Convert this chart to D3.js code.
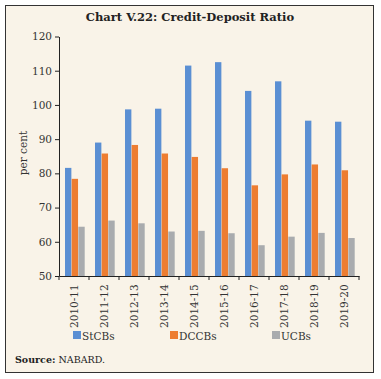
<!DOCTYPE html>
<html><head><meta charset="utf-8">
<script src="https://cdn.jsdelivr.net/npm/d3@7"></script>
<style>body{margin:0;background:#fff}svg{display:block}</style>
</head><body>
<script>
const categories = ["2010-11","2011-12","2012-13","2013-14","2014-15","2015-16","2016-17","2017-18","2018-19","2019-20"];
const stcbs = [81.6,89.0,98.7,98.9,111.5,112.5,104.1,106.9,95.4,95.1];
const dccbs = [78.4,85.8,88.3,85.8,84.8,81.5,76.5,79.7,82.6,80.9];
const ucbs  = [64.4,66.2,65.4,63.0,63.2,62.5,59.0,61.5,62.6,61.1];
const seriesNames = ["StCBs","DCCBs","UCBs"];
const yTicks = [50,60,70,80,90,100,110,120];
const colors = ["#5b8fd3","#ed7d31","#a9abae"];
const W=381,H=379;
const font="'DejaVu Serif', 'Liberation Serif', serif";
const svg=d3.select("body").append("svg").attr("width",W).attr("height",H);
svg.append("rect").attr("x",5.5).attr("y",5.5).attr("width",368).attr("height",367)
  .attr("fill","#f9f3e8").attr("stroke","#333").attr("stroke-width",1);
svg.append("text").attr("x",190).attr("y",21).attr("text-anchor","middle")
  .attr("font-family",font).attr("font-weight","bold").attr("font-size",11.5).attr("fill","#222")
  .text("Chart V.22: Credit-Deposit Ratio");
const x0=d3.scaleBand().domain(categories).range([59,359]);
const y=d3.scaleLinear().domain([50,120]).range([276,36.5]);
const x1=d3.scaleBand().domain(seriesNames).range([6,26]).padding(0);
const data=[stcbs,dccbs,ucbs];
const g=svg.append("g");
seriesNames.forEach((s,si)=>{
  g.selectAll(".b"+si).data(categories).enter().append("rect")
   .attr("x",c=>x0(c)+x1(s)).attr("width",x1.bandwidth()-0.3)
   .attr("y",(c,i)=>y(data[si][i])).attr("height",(c,i)=>y(50)-y(data[si][i]))
   .attr("fill",colors[si]);
});
const ya=svg.append("g").attr("transform","translate(59,0)")
  .call(d3.axisLeft(y).tickValues(yTicks).tickSize(4).tickSizeOuter(0));
ya.select(".domain").attr("stroke","#222");
ya.selectAll("line").attr("stroke","#222");
ya.selectAll("text").attr("font-family",font).attr("font-size",10.5).attr("fill","#333");
const xa=svg.append("g").attr("transform","translate(0,276)")
  .call(d3.axisBottom(x0).tickSize(0).tickFormat(d=>d));
xa.select(".domain").attr("stroke","#222");
xa.selectAll("text").attr("font-family",font).attr("font-size",10.5).attr("fill","#333")
  .attr("transform","rotate(-90)").attr("text-anchor","end").attr("dx","-0.6em").attr("dy","0.35em")
  .attr("y",0).attr("x",-2);
// band boundary ticks
svg.append("g").selectAll("line").data(categories.concat(["end"])).enter().append("line")
  .attr("x1",(c,i)=>x0.range()[0]+i*x0.step()).attr("x2",(c,i)=>x0.range()[0]+i*x0.step())
  .attr("y1",276).attr("y2",280).attr("stroke","#222");
svg.append("text").attr("transform","translate(27,153) rotate(-90)").attr("text-anchor","middle")
  .attr("font-family",font).attr("font-size",10.5).attr("fill","#333").text("per cent");
const legX=[73,170,272];
seriesNames.forEach((s,i)=>{
  svg.append("rect").attr("x",legX[i]).attr("y",331).attr("width",8).attr("height",8).attr("fill",colors[i]);
  svg.append("text").attr("x",legX[i]+9).attr("y",339.5).attr("font-family",font).attr("font-size",10.5)
    .attr("fill","#333").text(s);
});
const src=svg.append("text").attr("x",15).attr("y",363).attr("font-family",font).attr("font-size",9.5).attr("fill","#222");
src.append("tspan").attr("font-weight","bold").text("Source:");
src.append("tspan").text(" NABARD.");
</script>
</body></html>
